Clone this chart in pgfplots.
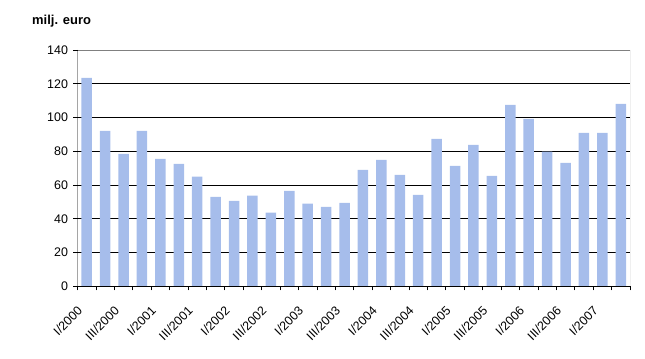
\documentclass[border=0pt]{standalone}
\usepackage{fontspec}
\setmainfont{Liberation Sans}
\usepackage{pgfplots}
\pgfplotsset{compat=1.18}
\definecolor{barblue}{RGB}{166,189,235}
\begin{document}
\begin{tikzpicture}
\begin{axis}[
  at={(0,0)}, anchor=south west,
  scale only axis, width=552.5bp, height=236.3bp,
  xmin=-0.5, xmax=29.5, ymin=0, ymax=140,
  ytick={0,20,...,140},
  xtick={0,2,...,28},
  xticklabels={I/2000,III/2000,I/2001,III/2001,I/2002,III/2002,I/2003,III/2003,I/2004,III/2004,I/2005,III/2005,I/2006,III/2006,I/2007},
  minor xtick={-0.5,0.5,...,29.5},
  major x tick style={draw=none},
  minor tick length=4bp, major tick length=4bp,
  tick align=outside, xtick pos=bottom, ytick pos=left,
  ymajorgrids, grid style={black, line width=0.8bp},
  axis line style={draw=none},
  tick style={black, line width=0.8bp},
  ticklabel style={font=\fontsize{12.5}{14}\selectfont},
  /pgf/number format/assume math mode=true,
  xticklabel style={xshift=-10bp, yshift=-10bp, rotate=45, anchor=north east},
  yticklabel style={xshift=-2bp},
  ybar, bar width=10.5bp,
]
\addplot[fill=barblue, draw=none] coordinates {
(0,123.5) (1,92.1) (2,78.5) (3,92.1) (4,75.5) (5,72.5) (6,65.0) (7,53.0) (8,50.6) (9,53.7)
(10,43.7) (11,56.5) (12,49.0) (13,47.0) (14,49.4) (15,69.0) (16,74.9) (17,66.0) (18,54.2) (19,87.4)
(20,71.4) (21,83.8) (22,65.4) (23,107.5) (24,99.2) (25,79.8) (26,73.1) (27,90.9) (28,90.9) (29,108.1)
};
\draw[gray, line width=0.8bp] (rel axis cs:0,1) -- (rel axis cs:1,1) -- (rel axis cs:1,0);
\draw[black, line width=0.8bp] (rel axis cs:0,1) -- (rel axis cs:0,0) -- (rel axis cs:1,0);
\end{axis}
\node[anchor=base west, inner sep=0pt, font=\bfseries\fontsize{13}{15}\selectfont] at (-45.5bp,261.3bp) {milj. euro};
\pgfresetboundingbox
\useasboundingbox (-77.5bp,-72.7bp) rectangle (567.5bp,286.3bp);
\end{tikzpicture}
\end{document}
